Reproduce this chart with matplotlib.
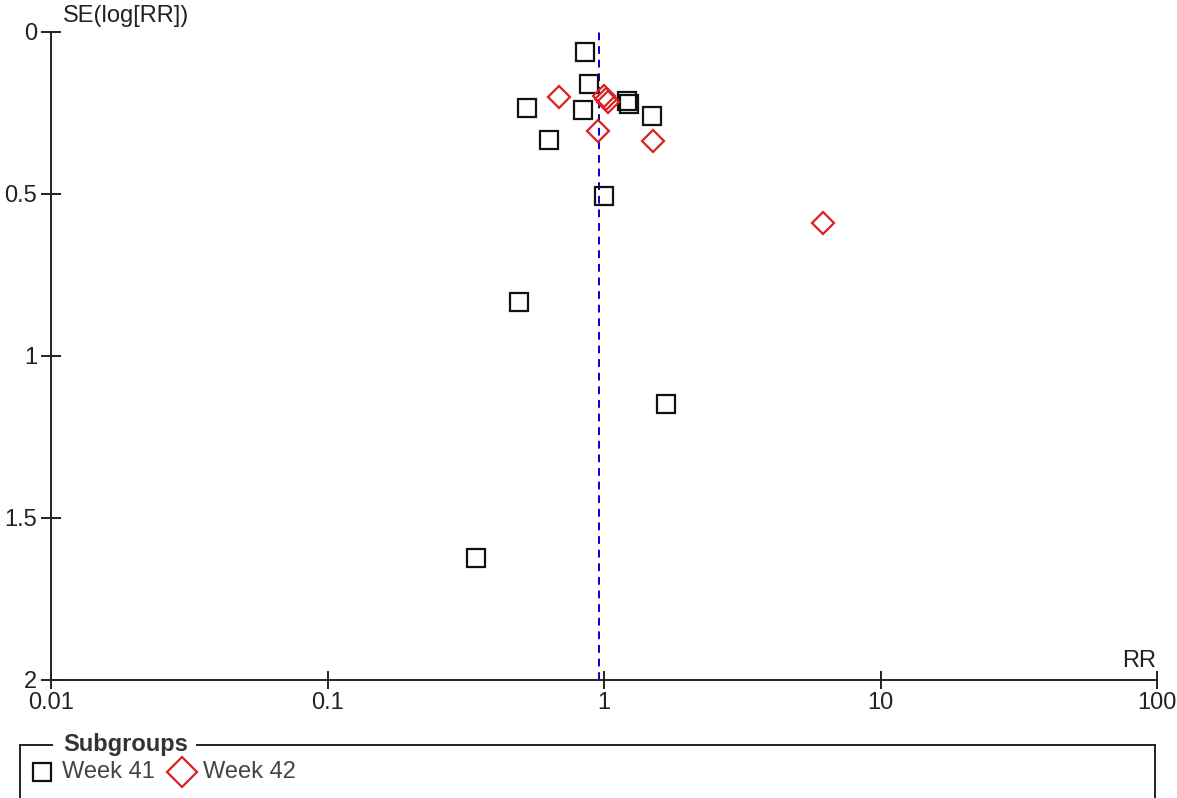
import matplotlib
matplotlib.use("Agg")
import matplotlib.pyplot as plt
from matplotlib.lines import Line2D

plt.rcParams["font.family"] = ["Liberation Sans", "DejaVu Sans"]

# Funnel plot data: risk ratio and standard error of log(RR) per study
week41_rr = [0.857, 0.879, 0.528, 0.843, 1.216, 1.236, 1.486, 0.635, 1.004, 0.494, 1.67, 0.343]
week41_se = [0.062, 0.160, 0.235, 0.240, 0.213, 0.222, 0.259, 0.333, 0.506, 0.833, 1.148, 1.623]
week42_rr = [0.685, 0.996, 1.017, 1.038, 0.955, 1.499, 6.18]
week42_se = [0.200, 0.198, 0.207, 0.216, 0.306, 0.336, 0.590]
pooled_rr = 0.963

x_ticks = [0.01, 0.1, 1, 10, 100]
x_tick_labels = ["0.01", "0.1", "1", "10", "100"]
y_ticks = [0, 0.5, 1, 1.5, 2]
y_tick_labels = ["0", "0.5", "1", "1.5", "2"]

W, H = 1177, 798
FS = 17
INK = "#222222"

fig = plt.figure(figsize=(W / 100, H / 100), dpi=100)
ax = fig.add_axes([51 / W, (H - 680) / H, (1157 - 51) / W, (680 - 32) / H])

ax.set_xscale("log")
ax.set_xlim(0.01, 100)
ax.set_ylim(2, 0)

ax.axvline(pooled_rr, color="#0000cc", lw=1.4, ls=(0, (4, 3)), zorder=1)

ax.plot(week41_rr, week41_se, ls="none", marker="s", ms=12.5, mfc="none",
        mec="#111111", mew=1.6, zorder=3)
ax.plot(week42_rr, week42_se, ls="none", marker="D", ms=11, mfc="none",
        mec="#e02020", mew=1.6, zorder=3)

for side in ("top", "right"):
    ax.spines[side].set_visible(False)
for side in ("left", "bottom"):
    ax.spines[side].set_color(INK)
    ax.spines[side].set_linewidth(1.4)

ax.set_xticks(x_ticks)
ax.set_xticklabels(x_tick_labels)
ax.xaxis.set_minor_locator(matplotlib.ticker.NullLocator())
ax.set_yticks(y_ticks)
ax.set_yticklabels(y_tick_labels)
ax.tick_params(axis="x", direction="inout", length=13, width=1.4, pad=2,
               labelsize=FS, colors=INK)
ax.tick_params(axis="y", direction="inout", length=15, width=1.4, pad=2.5,
               labelsize=FS, colors=INK)

fig.text(63 / W, 1 - 16 / H, "SE(log[RR])", fontsize=FS, color=INK,
         ha="left", va="center")
fig.text(1156 / W, 1 - 661 / H, "RR", fontsize=FS, color=INK,
         ha="right", va="center")


# Legend frame with the title breaking the top edge
def fx(px):
    return px / W


def fy(py):
    return 1 - py / H


frame_kw = dict(color=INK, lw=1.4, transform=fig.transFigure)
fig.add_artist(Line2D([fx(20), fx(20)], [fy(745), fy(800)], **frame_kw))
fig.add_artist(Line2D([fx(20), fx(52)], [fy(745), fy(745)], **frame_kw))
fig.add_artist(Line2D([fx(197), fx(1155)], [fy(745), fy(745)], **frame_kw))
fig.add_artist(Line2D([fx(1155), fx(1155)], [fy(745), fy(800)], **frame_kw))
fig.text(fx(63), fy(744), "Subgroups", fontsize=FS, fontweight="bold",
         color="#333333", ha="left", va="center")

fig.add_artist(Line2D([fx(42)], [fy(772)], ls="none", marker="s", ms=13,
                      mfc="none", mec="#111111", mew=1.6, transform=fig.transFigure))
fig.text(fx(62), fy(772), "Week 41", fontsize=FS, color="#444444",
         ha="left", va="center")
fig.add_artist(Line2D([fx(182)], [fy(772)], ls="none", marker="D", ms=15,
                      mfc="none", mec="#e02020", mew=1.6, transform=fig.transFigure))
fig.text(fx(203), fy(772), "Week 42", fontsize=FS, color="#444444",
         ha="left", va="center")

fig.savefig("out.png", dpi=100)
